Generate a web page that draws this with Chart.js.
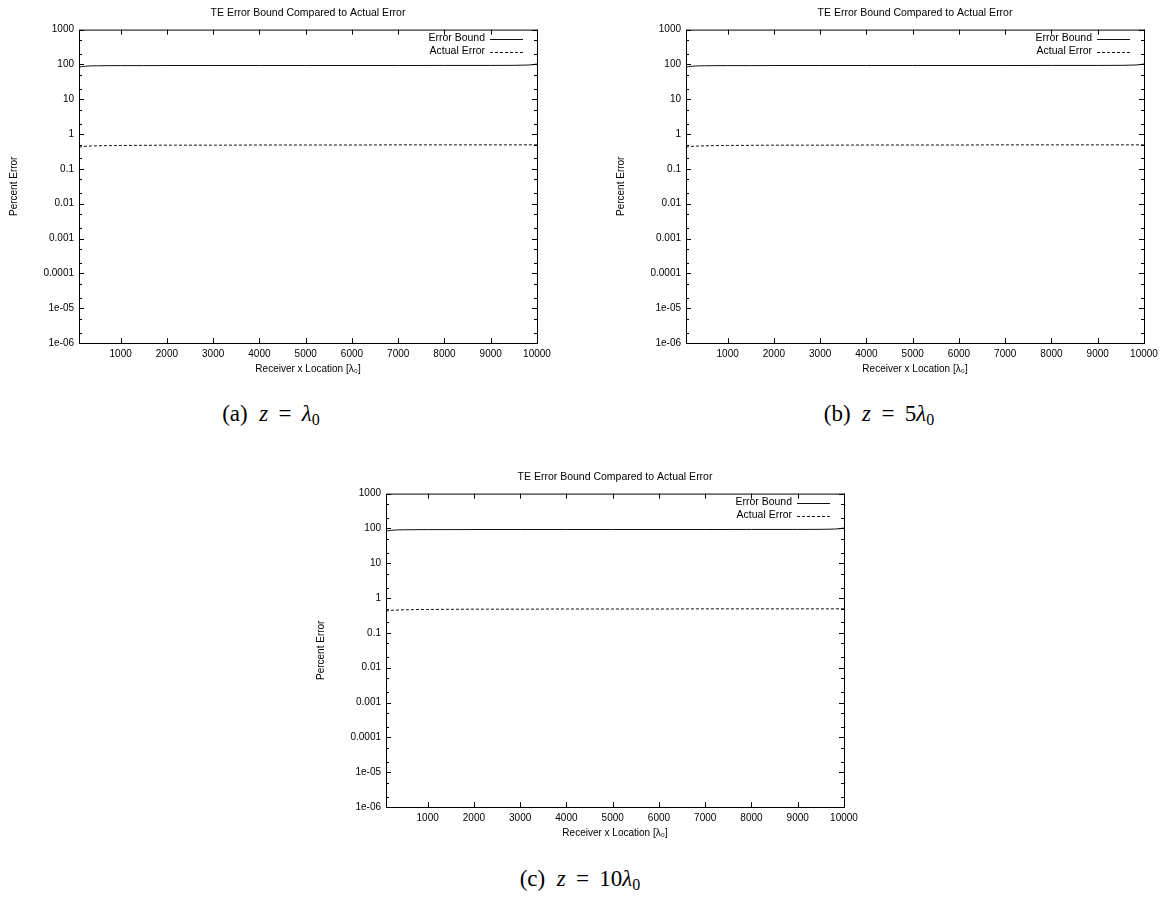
<!DOCTYPE html>
<html>
<head>
<meta charset="utf-8">
<script src="https://cdn.jsdelivr.net/npm/chart.js@4"></script>
<style>
  body { margin: 0; background: #fff; width: 1174px; height: 897px; position: relative; overflow: hidden; }
  .panel { position: absolute; width: 560px; height: 380px; }
  .cap { position: absolute; width: 300px; text-align: center; font-family: "Liberation Serif", "DejaVu Serif", serif;
         font-size: 23px; line-height: 26px; color: #000; }
  .cap i { font-style: italic; }
  .cap sub { font-size: 16px; vertical-align: -4px; line-height: 0; }
</style>
</head>
<body>
<div class="panel" style="left:0;top:0"><canvas id="chartA"></canvas></div>
<div class="panel" style="left:607px;top:0"><canvas id="chartB"></canvas></div>
<div class="panel" style="left:307px;top:464px"><canvas id="chartC"></canvas></div>
<div class="cap" style="left:121px;top:401px">(a)&ensp;<i>z</i>&nbsp;&thinsp;=&thinsp;&nbsp;<i>λ</i><sub>0</sub></div>
<div class="cap" style="left:729px;top:401px">(b)&ensp;<i>z</i>&nbsp;&thinsp;=&thinsp;&nbsp;5<i>λ</i><sub>0</sub></div>
<div class="cap" style="left:430px;top:866px">(c)&ensp;<i>z</i>&nbsp;&thinsp;=&thinsp;&nbsp;10<i>λ</i><sub>0</sub></div>
<script>
// datos (iguales en los tres paneles a simple vista)
const receiverX = [100, 150, 200, 300, 400, 500, 700, 1000, 1500, 2000, 3000, 4000, 5000, 6000, 7000, 8000, 9000, 9500, 9800, 9900, 10000];
const errorBound = [83, 86, 88, 90, 91, 91.5, 92, 92.5, 92.5, 93, 93, 93, 93, 93, 93, 93.5, 93.5, 94, 96, 98, 103];
const actualError = [0.42, 0.43, 0.44, 0.45, 0.455, 0.46, 0.465, 0.47, 0.475, 0.48, 0.48, 0.485, 0.485, 0.485, 0.49, 0.49, 0.49, 0.49, 0.49, 0.49, 0.49];

const xTicks = [1000, 2000, 3000, 4000, 5000, 6000, 7000, 8000, 9000, 10000];
const xLabels = ['1000', '2000', '3000', '4000', '5000', '6000', '7000', '8000', '9000', '10000'];
const yTicks = [1e-6, 1e-5, 1e-4, 1e-3, 1e-2, 0.1, 1, 10, 100, 1000];
const yLabels = ['1e-06', '1e-05', '0.0001', '0.001', '0.01', '0.1', '1', '10', '100', '1000'];
const yMinorFactors = [2, 5];

const chartTitle = 'TE Error Bound Compared to Actual Error';
const xTitle = 'Receiver x Location [λ₀]';
const yTitle = 'Percent Error';

const baseFont = { family: 'Liberation Sans, Arial, sans-serif', size: 10 };

// marco, marcas hacia dentro y leyenda al estilo gnuplot
const framePlugin = {
    id: 'frame',
    afterDatasetsDraw(chart) {
        const { ctx, chartArea: a, scales: { x, y } } = chart;
        ctx.save();
        ctx.strokeStyle = '#000';
        ctx.lineWidth = 1;
        ctx.strokeRect(a.left + 0.5, a.top + 0.5, a.right - a.left, a.bottom - a.top);
        ctx.beginPath();
        xTicks.forEach(v => {
            const px = Math.round(x.getPixelForValue(v)) + 0.5;
            ctx.moveTo(px, a.bottom); ctx.lineTo(px, a.bottom - 5);
            ctx.moveTo(px, a.top); ctx.lineTo(px, a.top + 5);
        });
        yTicks.forEach(v => {
            const py = Math.round(y.getPixelForValue(v)) + 0.5;
            ctx.moveTo(a.left, py); ctx.lineTo(a.left + 5, py);
            ctx.moveTo(a.right, py); ctx.lineTo(a.right - 5, py);
            if (v < 1000) {
                yMinorFactors.forEach(f => {
                    const pm = Math.round(y.getPixelForValue(v * f)) + 0.5;
                    ctx.moveTo(a.left, pm); ctx.lineTo(a.left + 3, pm);
                    ctx.moveTo(a.right, pm); ctx.lineTo(a.right - 3, pm);
                });
            }
        });
        ctx.stroke();

        // leyenda
        ctx.font = '10.5px ' + baseFont.family;
        ctx.fillStyle = '#000';
        ctx.textAlign = 'right';
        ctx.textBaseline = 'middle';
        chart.data.datasets.forEach((ds, i) => {
            const ly = a.top + 9 + i * 13;
            ctx.fillText(ds.label, a.right - 52, ly);
            ctx.beginPath();
            ctx.setLineDash(ds.borderDash || []);
            ctx.strokeStyle = ds.borderColor;
            ctx.lineWidth = ds.borderWidth;
            ctx.moveTo(a.right - 47, Math.round(ly) + 0.5);
            ctx.lineTo(a.right - 14, Math.round(ly) + 0.5);
            ctx.stroke();
        });
        ctx.restore();
    }
};

function makeChart(id) {
    return new Chart(document.getElementById(id).getContext('2d'), {
        type: 'line',
        data: {
            labels: receiverX,
            datasets: [{
                label: 'Error Bound',
                data: receiverX.map((x, i) => ({ x: x, y: errorBound[i] })),
                borderColor: '#111',
                borderWidth: 1,
                pointRadius: 0,
                cubicInterpolationMode: 'monotone',
                fill: false
            }, {
                label: 'Actual Error',
                data: receiverX.map((x, i) => ({ x: x, y: actualError[i] })),
                borderColor: '#111',
                borderWidth: 1,
                borderDash: [3, 2],
                pointRadius: 0,
                cubicInterpolationMode: 'monotone',
                fill: false
            }]
        },
        options: {
            responsive: true,
            maintainAspectRatio: false,
            animation: false,
            layout: { padding: { left: 0, top: 0, right: 23, bottom: 0 } },
            scales: {
                x: {
                    type: 'linear',
                    min: 100,
                    max: 10000,
                    afterBuildTicks: s => { s.ticks = xTicks.map(v => ({ value: v })); },
                    afterFit: s => { s.height = 37; },
                    ticks: {
                        font: baseFont, color: '#000', padding: 5, maxRotation: 0, autoSkip: false,
                        callback: (v, i) => xLabels[i]
                    },
                    grid: { display: false, drawTicks: false },
                    border: { display: false },
                    title: { display: true, text: xTitle, font: baseFont, color: '#000', padding: { top: 0, bottom: 5 } }
                },
                y: {
                    type: 'logarithmic',
                    min: 1e-6,
                    max: 1000,
                    afterBuildTicks: s => { s.ticks = yTicks.map(v => ({ value: v })); },
                    afterFit: s => { s.width = 79; },
                    ticks: {
                        font: baseFont, color: '#000', padding: 5, autoSkip: false,
                        callback: (v, i) => yLabels[i]
                    },
                    grid: { display: false, drawTicks: false },
                    border: { display: false },
                    title: { display: true, text: yTitle, font: baseFont, color: '#000', padding: { top: 8, bottom: 0 } }
                }
            },
            plugins: {
                legend: { display: false },
                tooltip: { enabled: false },
                title: {
                    display: true,
                    fullSize: false,
                    text: chartTitle,
                    color: '#000',
                    font: { family: baseFont.family, size: 10.5, weight: 'normal' },
                    padding: { top: 7, bottom: 10 }
                }
            }
        },
        plugins: [framePlugin]
    });
}

makeChart('chartA');
makeChart('chartB');
makeChart('chartC');
</script>
</body>
</html>
